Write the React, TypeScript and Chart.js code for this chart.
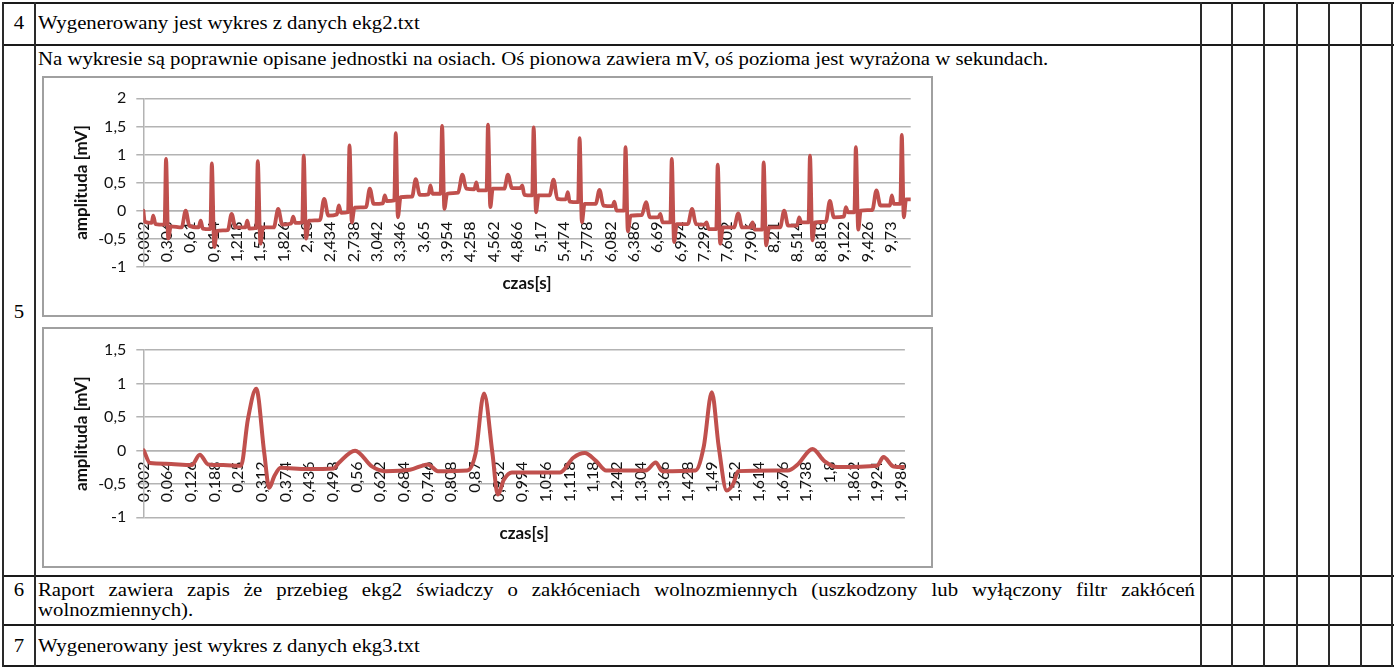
import React, { useEffect, useRef } from 'react';
import { Chart, registerables } from 'chart.js';

Chart.register(...registerables);

// ---------- data ----------
const ekg2Ticks = ['0,002', '0,306', '0,61', '0,914', '1,218', '1,522', '1,826', '2,13', '2,434', '2,738', '3,042', '3,346', '3,65', '3,954', '4,258', '4,562', '4,866', '5,17', '5,474', '5,778', '6,082', '6,386', '6,69', '6,994', '7,298', '7,602', '7,906', '8,21', '8,514', '8,818', '9,122', '9,426', '9,73'];

const ekg2ZoomTicks = ['0,002', '0,064', '0,126', '0,188', '0,25', '0,312', '0,374', '0,436', '0,498', '0,56', '0,622', '0,684', '0,746', '0,808', '0,87', '0,932', '0,994', '1,056', '1,118', '1,18', '1,242', '1,304', '1,366', '1,428', '1,49', '1,552', '1,614', '1,676', '1,738', '1,8', '1,862', '1,924', '1,986'];

const ekg2Time = [
  0.002, 0.02, 0.11, 0.13, 0.16, 0.278, 0.297, 0.325, 0.36, 0.50, 0.553, 0.60,
  0.72, 0.748, 0.775, 0.874, 0.893, 0.925, 0.96, 1.10, 1.151, 1.20,
  1.33, 1.354, 1.38, 1.472, 1.491, 1.525, 1.56, 1.70, 1.757, 1.81,
  1.925, 1.952, 1.98, 2.07, 2.089, 2.12, 2.16, 2.30, 2.355, 2.41,
  2.52, 2.546, 2.575, 2.666, 2.685, 2.715, 2.75, 2.90, 2.949, 3.0,
  3.12, 3.144, 3.17, 3.268, 3.287, 3.315, 3.35, 3.50, 3.547, 3.60,
  3.715, 3.738, 3.765, 3.871, 3.890, 3.92, 3.955, 4.10, 4.154, 4.205,
  4.31, 4.336, 4.36, 4.469, 4.488, 4.518, 4.55, 4.70, 4.747, 4.80,
  4.91, 4.934, 4.96, 5.063, 5.082, 5.113, 5.145, 5.29, 5.341, 5.39,
  5.50, 5.527, 5.55, 5.661, 5.680, 5.71, 5.745, 5.89, 5.939, 5.99,
  6.11, 6.133, 6.16, 6.259, 6.278, 6.308, 6.345, 6.49, 6.545, 6.595,
  6.705, 6.731, 6.76, 6.861, 6.880, 6.91, 6.945, 7.09, 7.144, 7.195,
  7.31, 7.333, 7.36, 7.459, 7.478, 7.51, 7.545, 7.69, 7.745, 7.795,
  7.905, 7.931, 7.96, 8.057, 8.076, 8.108, 8.145, 8.29, 8.343, 8.395,
  8.51, 8.538, 8.565, 8.66, 8.679, 8.71, 8.745, 8.885, 8.938, 8.99,
  9.12, 9.146, 9.175, 9.257, 9.276, 9.307, 9.34, 9.49, 9.544, 9.595,
  9.72, 9.744, 9.77, 9.855, 9.874, 9.90, 9.93, 9.99,
];

const ekg2Amp = [
  0.0, -0.2, -0.22, -0.09, -0.24, -0.25, 0.92, -0.5, -0.28, -0.3, 0.0, -0.27,
  -0.3, -0.18, -0.32, -0.33, 0.84, -0.65, -0.36, -0.35, -0.06, -0.3,
  -0.3, -0.18, -0.32, -0.31, 0.88, -0.59, -0.3, -0.3, 0.03, -0.25,
  -0.23, -0.11, -0.22, -0.21, 0.98, -0.5, -0.18, -0.17, 0.21, -0.09,
  -0.07, 0.09, -0.04, -0.03, 1.16, -0.21, 0.05, 0.06, 0.39, 0.12,
  0.13, 0.27, 0.17, 0.18, 1.38, -0.12, 0.24, 0.25, 0.56, 0.28,
  0.29, 0.45, 0.30, 0.30, 1.51, 0.03, 0.30, 0.32, 0.64, 0.39,
  0.38, 0.50, 0.36, 0.36, 1.53, 0.06, 0.39, 0.39, 0.64, 0.40,
  0.40, 0.45, 0.28, 0.27, 1.48, -0.03, 0.27, 0.27, 0.55, 0.21,
  0.20, 0.33, 0.16, 0.15, 1.29, -0.21, 0.12, 0.12, 0.37, 0.09,
  0.08, 0.16, 0.0, 0.0, 1.13, -0.37, -0.09, -0.08, 0.15, -0.12,
  -0.12, -0.06, -0.21, -0.21, 0.92, -0.56, -0.24, -0.24, 0.03, -0.24,
  -0.25, -0.21, -0.33, -0.33, 0.82, -0.59, -0.3, -0.3, -0.05, -0.3,
  -0.3, -0.21, -0.34, -0.34, 0.86, -0.62, -0.3, -0.3, 0.0, -0.27,
  -0.27, -0.12, -0.21, -0.21, 0.98, -0.53, -0.21, -0.2, 0.17, -0.12,
  -0.11, 0.06, -0.03, -0.03, 1.13, -0.34, 0.0, 0.01, 0.36, 0.09,
  0.09, 0.27, 0.12, 0.12, 1.35, -0.12, 0.2, 0.2,
];

const ekg2ZoomTime = [
  0.002, 0.019, 0.06, 0.128, 0.149, 0.171, 0.21, 0.257, 0.275, 0.297, 0.318, 0.331,
  0.344, 0.361, 0.43, 0.50, 0.513, 0.556, 0.600, 0.634, 0.70, 0.747, 0.773, 0.850,
  0.872, 0.894, 0.916, 0.930, 0.946, 0.967, 1.093, 1.128, 1.158, 1.188, 1.214, 1.318,
  1.344, 1.361, 1.448, 1.470, 1.491, 1.509, 1.530, 1.548, 1.560, 1.690, 1.716, 1.755,
  1.786, 1.820, 1.924, 1.941, 1.967, 1.997,
];

const ekg2ZoomAmp = [
  0.0, -0.19, -0.2, -0.22, -0.065, -0.21, -0.22, -0.23, 0.46, 0.92, -0.04, -0.56,
  -0.39, -0.26, -0.28, -0.27, -0.19, -0.005, -0.24, -0.31, -0.29, -0.21, -0.31, -0.3,
  -0.04, 0.85, -0.04, -0.66, -0.44, -0.33, -0.33, -0.11, -0.04, -0.16, -0.3, -0.3,
  -0.18, -0.31, -0.3, 0.06, 0.87, 0.06, -0.60, -0.49, -0.31, -0.3, -0.21, 0.02,
  -0.16, -0.25, -0.23, -0.1, -0.24, -0.25,
];

// ---------- styling ----------
const LINE = '#C0504D';
const GRID = '#b3b3b3';
const TICK_FONT = { family: 'Lato, "Noto Sans", sans-serif', size: 16 };
const TITLE_FONT = { family: 'Lato, "Noto Sans", sans-serif', size: 17, weight: 'bold' as const };
const SERIF = '"Liberation Serif", "Times New Roman", serif';
const SX = 1.154;

type ChartProps = {
  left: number; top: number; width: number; height: number;
  times: number[]; amps: number[]; ticks: string[];
  xMin: number; xMax: number; yMax: number; lineWidth: number;
  padTop: number; padRight: number; padBottom: number; yWidth: number;
  xTitlePad: number; yTitlePad: number;
};

function EcgChart(p: ChartProps) {
  const ref = useRef<HTMLCanvasElement | null>(null);
  useEffect(() => {
    if (!ref.current) return;
    const tickValues = p.ticks.map((l) => parseFloat(l.replace(',', '.')));
    const chart = new Chart(ref.current, {
      type: 'line',
      data: {
        datasets: [{
          data: p.times.map((t, i) => ({ x: t, y: p.amps[i] })),
          borderColor: LINE,
          borderWidth: p.lineWidth,
          pointRadius: 0,
          fill: false,
          cubicInterpolationMode: 'monotone',
          borderJoinStyle: 'round',
          borderCapStyle: 'round',
        }],
      },
      options: {
        animation: false,
        responsive: false,
        events: [],
        layout: { padding: { left: 0, right: p.padRight, top: p.padTop, bottom: p.padBottom } },
        plugins: { legend: { display: false }, tooltip: { enabled: false }, title: { display: false } },
        scales: {
          x: {
            type: 'linear',
            min: p.xMin,
            max: p.xMax,
            position: { y: 0 },
            grid: { display: false, drawTicks: false },
            border: { display: true, color: GRID, width: 1.5 },
            afterBuildTicks: (s: any) => { s.ticks = tickValues.map((v) => ({ value: v })); },
            afterFit: (s: any) => { s.height = 0; },
            ticks: {
              autoSkip: false, minRotation: 90, maxRotation: 90, padding: 11,
              color: '#111', font: TICK_FONT,
              callback: (_v: any, i: number) => p.ticks[i],
            },
            title: {
              display: true, text: 'czas[s]', color: '#111', font: TITLE_FONT,
              padding: { top: 0, bottom: p.xTitlePad },
            },
          },
          y: {
            type: 'linear',
            min: -1,
            max: p.yMax,
            afterFit: (s: any) => { s.width = p.yWidth; },
            ticks: {
              stepSize: 0.5, padding: 10, color: '#111', font: TICK_FONT,
              callback: (v: any) => String(v).replace('.', ','),
            },
            grid: { color: GRID, lineWidth: 1.5, tickLength: 7 },
            border: { display: true, color: GRID, width: 1.5 },
            title: {
              display: true, text: 'amplituda [mV]', color: '#111', font: TITLE_FONT,
              padding: { top: p.yTitlePad, bottom: 0 },
            },
          },
        },
      } as any,
    });
    return () => chart.destroy();
  }, []);
  return (
    <div style={{ position: 'absolute', left: p.left, top: p.top, width: p.width, height: p.height, border: '2px solid #a0a0a0', background: '#fff' }}>
      <canvas ref={ref} width={p.width} height={p.height} style={{ display: 'block', width: p.width, height: p.height }} />
    </div>
  );
}

function SText(props: { left: number; top: number; width?: number; justify?: boolean; children: React.ReactNode }) {
  return (
    <div style={{
      position: 'absolute', left: props.left, top: props.top,
      width: props.width ? props.width / SX : undefined,
      transform: `scaleX(${SX})`, transformOrigin: '0 0',
      whiteSpace: props.justify ? 'normal' : 'nowrap', textAlign: props.justify ? 'justify' : 'left',
      fontFamily: SERIF, fontSize: 18, lineHeight: '20px', color: '#000',
    }}>{props.children}</div>
  );
}

function Num(props: { top: number; children: React.ReactNode }) {
  return (
    <div style={{
      position: 'absolute', left: 3, top: props.top, width: 32, textAlign: 'center',
      transform: `scaleX(${SX})`, transformOrigin: '50% 0',
      fontFamily: SERIF, fontSize: 18, lineHeight: '20px', color: '#000',
    }}>{props.children}</div>
  );
}

const hLines = [3, 45, 576, 625, 666];
const vLines = [3, 35, 1201, 1232, 1264, 1297, 1329, 1361, 1392];

export default function App() {
  return (
    <div style={{ position: 'absolute', left: 0, top: 0, width: 1399, height: 668, background: '#fff', overflow: 'hidden' }}>
      {hLines.map((y) => (
        <div key={'h' + y} style={{ position: 'absolute', left: 2, top: y - 1, width: 1392, height: 2, background: '#1a1a1a' }} />
      ))}
      {vLines.map((x) => (
        <div key={'v' + x} style={{ position: 'absolute', left: x - 1, top: 2, width: 2, height: 665, background: '#2a2a2a' }} />
      ))}

      <Num top={13}>4</Num>
      <SText left={38} top={13}>Wygenerowany jest wykres z danych ekg2.txt</SText>

      <Num top={302}>5</Num>
      <SText left={38} top={49}>Na wykresie są poprawnie opisane jednostki na osiach. Oś pionowa zawiera mV, oś pozioma jest wyrażona w sekundach.</SText>

      <EcgChart left={42} top={76} width={887} height={237}
        times={ekg2Time} amps={ekg2Amp} ticks={ekg2Ticks}
        xMin={0.001} xMax={9.99} yMax={2} lineWidth={3.8}
        padTop={20.3} padRight={20.3} padBottom={48.3} yWidth={99.3}
        xTitlePad={-83.2} yTitlePad={27} />

      <EcgChart left={42} top={327} width={887} height={237}
        times={ekg2ZoomTime} amps={ekg2ZoomAmp} ticks={ekg2ZoomTicks}
        xMin={0.001} xMax={1.997} yMax={1.5} lineWidth={4}
        padTop={21} padRight={20.3} padBottom={48.7} yWidth={99.3}
        xTitlePad={-93.5} yTitlePad={27} />

      <Num top={580}>6</Num>
      <SText left={38} top={580} width={1157} justify>Raport zawiera zapis że przebieg ekg2 świadczy o zakłóceniach wolnozmiennych (uszkodzony lub wyłączony filtr zakłóceń wolnozmiennych).</SText>

      <Num top={636}>7</Num>
      <SText left={38} top={636}>Wygenerowany jest wykres z danych ekg3.txt</SText>
    </div>
  );
}
